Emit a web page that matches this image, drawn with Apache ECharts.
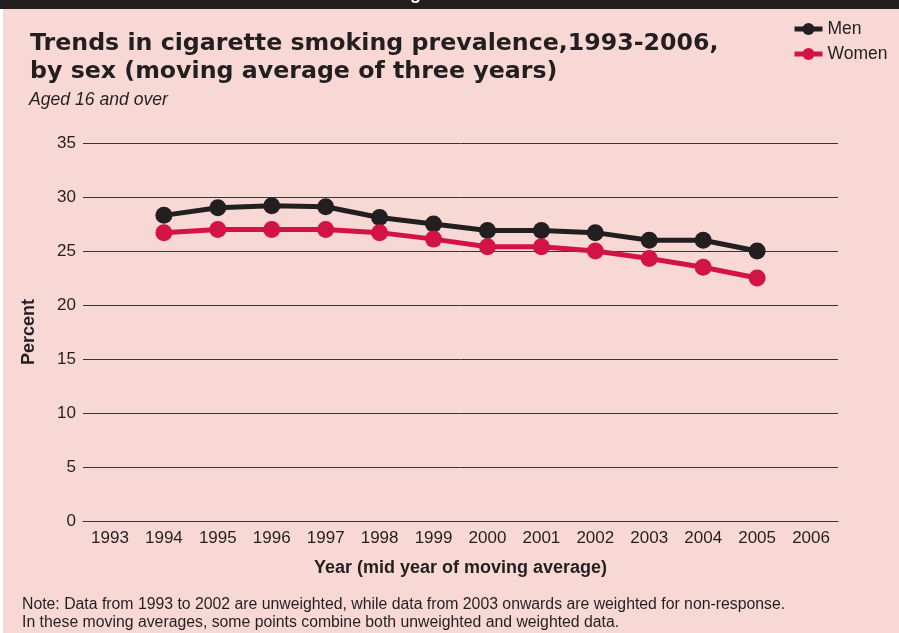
<!DOCTYPE html>
<html>
<head>
<meta charset="utf-8">
<script src="https://cdn.jsdelivr.net/npm/echarts@6/dist/echarts.min.js"></script>
<style>
  html, body { margin: 0; padding: 0; background: #ffffff; }
  #chart { width: 899px; height: 633px; }
</style>
</head>
<body>
<div id="chart"></div>
<script>
// Three-year moving averages of cigarette smoking prevalence (%), by sex
const years = ['1993', '1994', '1995', '1996', '1997', '1998', '1999',
               '2000', '2001', '2002', '2003', '2004', '2005', '2006'];
const men   = [null, 28.3, 29.0, 29.2, 29.1, 28.1, 27.5, 26.9, 26.9, 26.7, 26.0, 26.0, 25.0, null];
const women = [null, 26.7, 27.0, 27.0, 27.0, 26.7, 26.1, 25.4, 25.4, 25.0, 24.3, 23.5, 22.5, null];
const yTicks = { min: 0, max: 35, step: 5 };

const FONT = '"Liberation Sans", Arial, sans-serif';
const MEN_COLOR = '#231f20';
const WOMEN_COLOR = '#d31245';

const chart = echarts.init(document.getElementById('chart'), null, { renderer: 'canvas' });

function lineSeries(name, data, color) {
  return {
    name: name,
    type: 'line',
    data: data,
    color: color,
    symbol: 'circle',
    symbolSize: 17,
    showAllSymbol: true,
    lineStyle: { width: 5, color: color },
    itemStyle: { color: color },
    emphasis: { disabled: true },
    animation: false
  };
}

chart.setOption({
  backgroundColor: '#f8d8d4',
  animation: false,
  textStyle: { fontFamily: FONT },
  graphic: [
    { type: 'rect', left: 0, top: 0, shape: { width: 899, height: 9 }, style: { fill: '#231f20' } },
    { type: 'rect', left: 0, top: 9, shape: { width: 3, height: 624 }, style: { fill: '#ffffff' } },
    { type: 'text', left: 394, top: -15, style: { text: 'Figure 3.3', fill: '#ffffff', font: 'bold 18px ' + FONT } },
    { type: 'text', left: 30, top: 30, style: {
        text: 'Trends in cigarette smoking prevalence,1993-2006,\nby sex (moving average of three years)',
        fill: '#231f20', font: '900 23.7px "DejaVu Sans", sans-serif', lineHeight: 28 } },
    { type: 'text', left: 29, top: 91, style: { text: 'Aged 16 and over', fill: '#231f20', font: 'italic 17.6px ' + FONT } },
    { type: 'text', left: 22, top: 596, style: {
        text: 'Note: Data from 1993 to 2002 are unweighted, while data from 2003 onwards are weighted for non-response.\nIn these moving averages, some points combine both unweighted and weighted data.',
        fill: '#231f20', font: '15.8px ' + FONT, lineHeight: 18 } }
  ],
  legend: {
    orient: 'vertical',
    left: 787,
    top: 15,
    itemWidth: 28,
    itemHeight: 15,
    itemGap: 7,
    lineStyle: { width: 5 },
    textStyle: { fontSize: 17.5, color: '#231f20', fontFamily: FONT },
    data: ['Men', 'Women']
  },
  grid: { left: 83, right: 61, top: 143, bottom: 112, containLabel: false },
  xAxis: {
    type: 'category',
    data: years,
    boundaryGap: true,
    axisLine: { show: true, lineStyle: { color: '#3a3535', width: 1 } },
    axisTick: { show: false },
    axisLabel: { color: '#231f20', fontSize: 17, margin: 9, interval: 0, fontFamily: FONT },
    name: 'Year (mid year of moving average)',
    nameLocation: 'middle',
    nameGap: 38,
    nameTextStyle: { fontSize: 18, fontWeight: 'bold', color: '#231f20', fontFamily: FONT }
  },
  yAxis: {
    type: 'value',
    min: yTicks.min,
    max: yTicks.max,
    interval: yTicks.step,
    axisLine: { show: false },
    axisTick: { show: false },
    splitLine: { show: true, lineStyle: { color: '#3a3535', width: 1 } },
    axisLabel: { color: '#231f20', fontSize: 17, margin: 7, fontFamily: FONT },
    name: 'Percent',
    nameLocation: 'middle',
    nameGap: 45,
    nameRotate: 90,
    nameTextStyle: { fontSize: 18, fontWeight: 'bold', color: '#231f20', fontFamily: FONT }
  },
  series: [
    lineSeries('Men', men, MEN_COLOR),
    lineSeries('Women', women, WOMEN_COLOR)
  ]
});
</script>
</body>
</html>
